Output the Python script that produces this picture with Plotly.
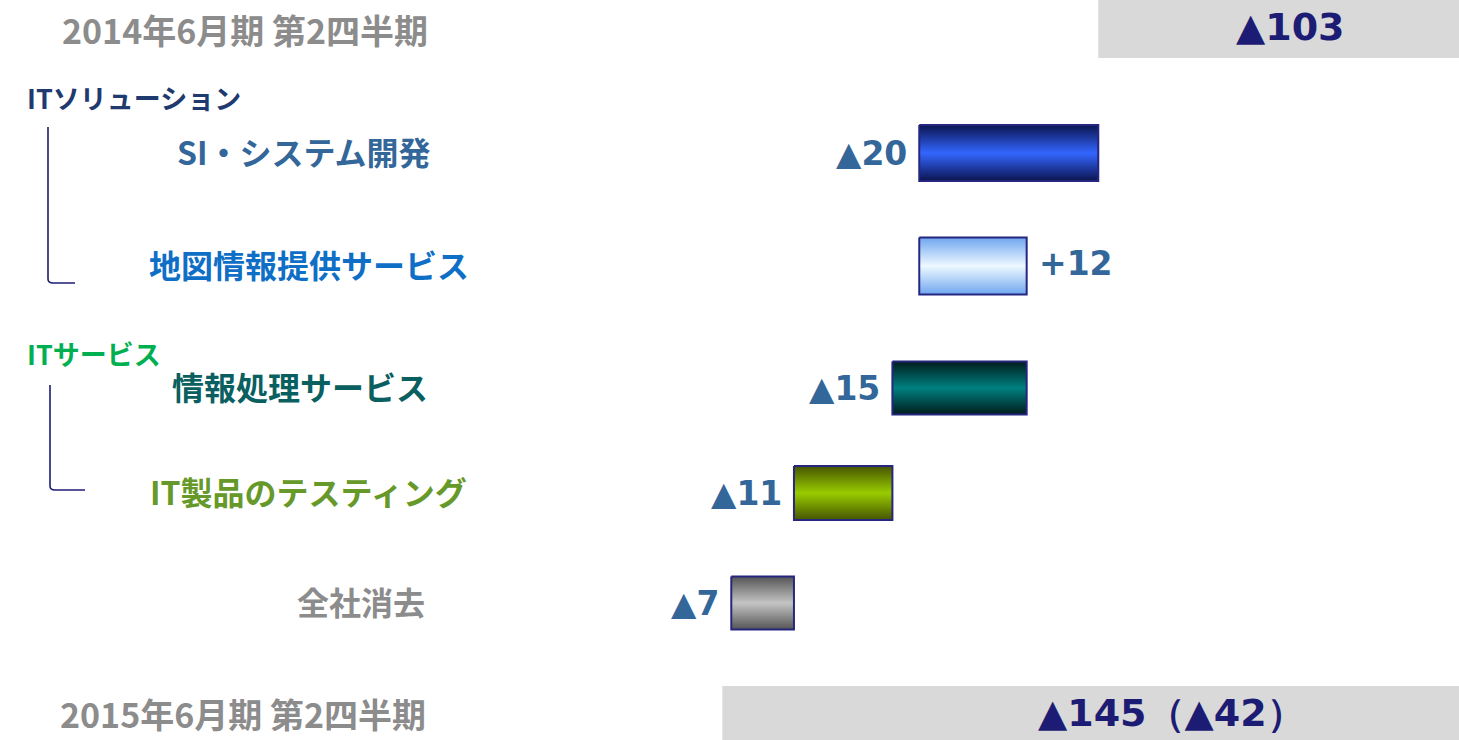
import plotly.graph_objects as go

# ---- data ----
start_label = "2014年6月期 第2四半期"
end_label = "2015年6月期 第2四半期"
start_value = -103
end_value = -145
diff_value = -42
categories = ["SI・システム開発", "地図情報提供サービス", "情報処理サービス", "IT製品のテスティング", "全社消去"]
deltas = [-20, 12, -15, -11, -7]
groups = ["ITソリューション", "ITサービス"]

# ---- styling / layout ----
W, H = 1459, 740
X_RANGE = [-225.7, -62.7]
row_y = [153, 266, 388, 493, 603]      # pixel rows of the step bars
row_h = [56, 57, 53, 54, 53]
top_y, top_h = 29, 58
bot_y, bot_h = 713, 54
edge_colors = ["#0b1450", "#6fa6f0", "#001c1c", "#465400", "#555555"]
center_colors = ["#3366ff", "#eef9ff", "#008080", "#99cc00", "#c4c4c4"]
label_colors = ["#336699", "#0f6fc6", "#0a6060", "#66992a", "#8c8c8c"]
label_x = [175, 147, 170, 148, 295]
value_color = "#336699"
navy = "#1c1c74"
gray_box = "#d9d9d9"
JP = "Noto Sans CJK JP"
NUM = "DejaVu Sans"

def fmt(v):
    return ("▲" if v < 0 else "+") + str(abs(v))

fig = go.Figure()

# total boxes (bars from value to zero, clipped by axis range)
fig.add_trace(go.Bar(y=[top_y], x=[-start_value], base=[start_value], orientation="h",
                     width=top_h, marker=dict(color=gray_box, line=dict(width=0)),
                     hoverinfo="skip", showlegend=False))
fig.add_trace(go.Bar(y=[bot_y], x=[-end_value], base=[end_value], orientation="h",
                     width=bot_h, marker=dict(color=gray_box, line=dict(width=0)),
                     hoverinfo="skip", showlegend=False))

# waterfall step bars with gradient
level = start_value
for i, d in enumerate(deltas):
    a, b = level, level + d
    lo, hi = min(a, b), max(a, b)
    y0, y1 = row_y[i] - row_h[i] / 2, row_y[i] + row_h[i] / 2
    fig.add_trace(go.Scatter(
        x=[lo, hi, hi, lo, lo], y=[y0, y0, y1, y1, y0], mode="lines",
        fill="toself",
        fillgradient=dict(type="vertical",
                          colorscale=[[0, edge_colors[i]], [0.5, center_colors[i]], [1, edge_colors[i]]]),
        line=dict(color="#262680", width=2),
        hoverinfo="skip", showlegend=False))
    # value label
    if d < 0:
        fig.add_annotation(x=lo, y=row_y[i], xref="x", yref="y", text=f"<b>{fmt(d)}</b>",
                           showarrow=False, xanchor="right", xshift=-10,
                           font=dict(family=NUM, size=33, color=value_color))
    else:
        fig.add_annotation(x=hi, y=row_y[i] - 3, xref="x", yref="y", text=f"<b>{fmt(d)}</b>",
                           showarrow=False, xanchor="left", xshift=10,
                           font=dict(family=NUM, size=33, color=value_color))
    # category label
    fig.add_annotation(x=label_x[i] / W, y=row_y[i] - 2, xref="paper", yref="y",
                       text=f"<b>{categories[i]}</b>", showarrow=False, xanchor="left",
                       font=dict(family=JP, size=32, color=label_colors[i]))
    level = b

# titles of totals
fig.add_annotation(x=60 / W, y=top_y, xref="paper", yref="y", text=f"<b>{start_label}</b>",
                   showarrow=False, xanchor="left", font=dict(family=JP, size=34, color="#8c8c8c"))
fig.add_annotation(x=58 / W, y=bot_y, xref="paper", yref="y", text=f"<b>{end_label}</b>",
                   showarrow=False, xanchor="left", font=dict(family=JP, size=34, color="#8c8c8c"))
fig.add_annotation(x=1290 / W, y=top_y - 2, xref="paper", yref="y", text=f"<b>{fmt(start_value)}</b>",
                   showarrow=False, xanchor="center", font=dict(family=NUM, size=38, color=navy))
fig.add_annotation(x=1171 / W, y=bot_y, xref="paper", yref="y",
                   text=f"<b>{fmt(end_value)}（{fmt(diff_value)}）</b>",
                   showarrow=False, xanchor="center",
                   font=dict(family=NUM, size=38, color=navy))

# group labels
fig.add_annotation(x=25 / W, y=97, xref="paper", yref="y", text=f"<b>{groups[0]}</b>",
                   showarrow=False, xanchor="left", font=dict(family=JP, size=27, color="#1f3a6e"))
fig.add_annotation(x=25 / W, y=353, xref="paper", yref="y", text=f"<b>{groups[1]}</b>",
                   showarrow=False, xanchor="left", font=dict(family=JP, size=27, color="#00b050"))

# brackets
def px(x):
    return x / W
fig.add_shape(type="path", xref="paper", yref="y",
              path=f"M {px(48)} 127 L {px(48)} 279 Q {px(48)} 283 {px(53)} 283 L {px(75)} 283",
              line=dict(color=navy, width=1.6))
fig.add_shape(type="path", xref="paper", yref="y",
              path=f"M {px(50)} 385 L {px(50)} 486 Q {px(50)} 490 {px(55)} 490 L {px(85)} 490",
              line=dict(color=navy, width=1.6))

fig.update_layout(
    width=W, height=H, margin=dict(l=0, r=0, t=0, b=0),
    paper_bgcolor="white", plot_bgcolor="white",
    xaxis=dict(range=X_RANGE, visible=False, fixedrange=True),
    yaxis=dict(range=[H, 0], visible=False, fixedrange=True),
    barmode="overlay",
)

fig.write_html("out.html", config={"displayModeBar": False},
               post_script="document.body.style.margin='0';document.body.style.overflow='hidden';")
